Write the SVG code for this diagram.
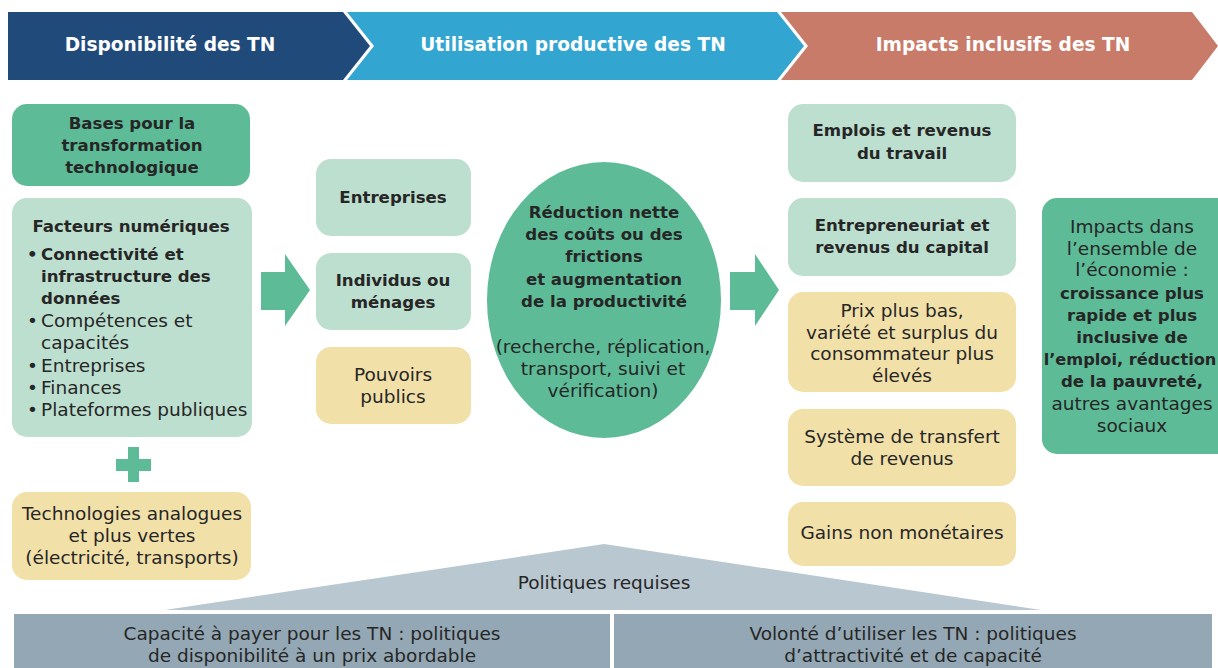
<svg xmlns="http://www.w3.org/2000/svg" width="1218" height="668" viewBox="0 0 1218 668">
  <defs>
    <style>
      text { font-family: "DejaVu Sans", "Liberation Sans", sans-serif; fill: #262626; }
      .t { font-size: 18.5px; text-anchor: middle; }
      .b { font-size: 16.6px; font-weight: bold; text-anchor: middle; }
      .l { font-size: 18.5px; }
      .lb { font-size: 16.6px; font-weight: bold; }
      .hd { font-size: 18.6px; font-weight: bold; fill: #ffffff; text-anchor: middle; }
      .dark { fill: #5dbb97; }
      .light { fill: #bddfcf; }
      .yellow { fill: #f2e0a9; }
      .roof { fill: #b8c7d0; }
      .bar { fill: #93a8b4; }
      .arrow { fill: #5dbb97; }
    </style>
  </defs>

  <!-- Stage banners -->
  <g id="stage-disponibilite">
    <polygon points="8,12 343,12 370,46 343,80 8,80" fill="#1f4a7a"/>
    <text class="hd" x="170" y="51">Disponibilité des TN</text>
  </g>
  <g id="stage-utilisation">
    <polygon points="347,12 777,12 804,46 777,80 347,80 374,46" fill="#33a5d1"/>
    <text class="hd" x="573" y="51">Utilisation productive des TN</text>
  </g>
  <g id="stage-impacts">
    <polygon points="781,12 1192,12 1218,46 1192,80 781,80 808,46" fill="#c87b69"/>
    <text class="hd" x="1003" y="51">Impacts inclusifs des TN</text>
  </g>

  <!-- Left column: foundations -->
  <g id="bases">
    <rect class="dark" x="12" y="104" width="238" height="82" rx="15"/>
    <text class="b" x="132" y="129">Bases pour la</text>
    <text class="b" x="132" y="151">transformation</text>
    <text class="b" x="132" y="173">technologique</text>
  </g>
  <g id="facteurs">
    <rect class="light" x="12" y="198" width="240" height="239" rx="15"/>
    <text class="b" x="131" y="232">Facteurs numériques</text>
    <text class="lb" x="27" y="260">•</text>
    <text class="lb" x="41" y="260">Connectivité et</text>
    <text class="lb" x="41" y="282">infrastructure des</text>
    <text class="lb" x="41" y="304">données</text>
    <text class="l" x="27" y="327">•</text>
    <text class="l" x="41" y="327">Compétences et</text>
    <text class="l" x="41" y="349">capacités</text>
    <text class="l" x="27" y="372">•</text>
    <text class="l" x="41" y="372">Entreprises</text>
    <text class="l" x="27" y="394">•</text>
    <text class="l" x="41" y="394">Finances</text>
    <text class="l" x="27" y="416">•</text>
    <text class="l" x="41" y="416">Plateformes publiques</text>
  </g>
  <g id="plus">
    <rect class="arrow" x="128" y="447" width="11" height="35"/>
    <rect class="arrow" x="116" y="459" width="35" height="12"/>
  </g>
  <g id="technologies">
    <rect class="yellow" x="12" y="492" width="239" height="88" rx="15"/>
    <text class="t" x="132" y="520">Technologies analogues</text>
    <text class="t" x="132" y="542">et plus vertes</text>
    <text class="t" x="132" y="564">(électricité, transports)</text>
  </g>

  <!-- Middle column: users -->
  <g id="entreprises">
    <rect class="light" x="316" y="159" width="155" height="77" rx="15"/>
    <text class="b" x="393" y="203">Entreprises</text>
  </g>
  <g id="individus">
    <rect class="light" x="316" y="253" width="155" height="77" rx="15"/>
    <text class="b" x="393" y="286">Individus ou</text>
    <text class="b" x="393" y="308">ménages</text>
  </g>
  <g id="pouvoirs">
    <rect class="yellow" x="316" y="347" width="155" height="77" rx="15"/>
    <text class="t" x="393" y="381">Pouvoirs</text>
    <text class="t" x="393" y="403">publics</text>
  </g>

  <!-- Central effect -->
  <g id="reduction">
    <ellipse class="dark" cx="604" cy="300" rx="117" ry="138"/>
    <text class="b" x="604" y="218">Réduction nette</text>
    <text class="b" x="604" y="240">des coûts ou des</text>
    <text class="b" x="604" y="262">frictions</text>
    <text class="b" x="604" y="285">et augmentation</text>
    <text class="b" x="604" y="307">de la productivité</text>
    <text class="t" x="603" y="353">(recherche, réplication,</text>
    <text class="t" x="603" y="375">transport, suivi et</text>
    <text class="t" x="603" y="397">vérification)</text>
  </g>

  <!-- Right column: outcomes -->
  <g id="emplois">
    <rect class="light" x="788" y="104" width="228" height="78" rx="15"/>
    <text class="b" x="902" y="136">Emplois et revenus</text>
    <text class="b" x="902" y="159">du travail</text>
  </g>
  <g id="entrepreneuriat">
    <rect class="light" x="788" y="198" width="228" height="78" rx="15"/>
    <text class="b" x="902" y="231">Entrepreneuriat et</text>
    <text class="b" x="902" y="253">revenus du capital</text>
  </g>
  <g id="prix">
    <rect class="yellow" x="788" y="292" width="228" height="100" rx="15"/>
    <text class="t" x="902" y="317">Prix plus bas,</text>
    <text class="t" x="902" y="339">variété et surplus du</text>
    <text class="t" x="902" y="360">consommateur plus</text>
    <text class="t" x="902" y="382">élevés</text>
  </g>
  <g id="transfert">
    <rect class="yellow" x="788" y="409" width="228" height="77" rx="15"/>
    <text class="t" x="902" y="443">Système de transfert</text>
    <text class="t" x="902" y="465">de revenus</text>
  </g>
  <g id="gains">
    <rect class="yellow" x="788" y="502" width="228" height="64" rx="15"/>
    <text class="t" x="902" y="539">Gains non monétaires</text>
  </g>
  <g id="impacts-economie">
    <rect class="dark" x="1042" y="198" width="190" height="256" rx="15"/>
    <text class="t" x="1132" y="233">Impacts dans</text>
    <text class="t" x="1132" y="255">l’ensemble de</text>
    <text class="t" x="1132" y="276">l’économie :</text>
    <text class="b" x="1132" y="299">croissance plus</text>
    <text class="b" x="1132" y="321">rapide et plus</text>
    <text class="b" x="1132" y="343">inclusive de</text>
    <text class="b" x="1130" y="365" style="font-size:16.2px">l’emploi, réduction</text>
    <text class="b" x="1132" y="387">de la pauvreté,</text>
    <text class="t" x="1132" y="410">autres avantages</text>
    <text class="t" x="1132" y="432">sociaux</text>
  </g>

  <!-- Flow arrows -->
  <g id="connectors">
    <polygon class="arrow" points="261,272 285,272 285,254 310,290 285,326 285,310 261,310"/>
    <polygon class="arrow" points="730,272 755,272 755,254 779,290 755,326 755,310 730,310"/>
  </g>

  <!-- Policy foundation -->
  <g id="politiques">
    <polygon class="roof" points="165,610 604,544 1041,610"/>
    <text class="t" x="604" y="589">Politiques requises</text>
  </g>
  <g id="capacite">
    <rect class="bar" x="14" y="614" width="596" height="54"/>
    <text class="t" x="312" y="640">Capacité à payer pour les TN : politiques</text>
    <text class="t" x="312" y="662">de disponibilité à un prix abordable</text>
  </g>
  <g id="volonte">
    <rect class="bar" x="614" y="614" width="598" height="54"/>
    <text class="t" x="913" y="640">Volonté d’utiliser les TN : politiques</text>
    <text class="t" x="913" y="662">d’attractivité et de capacité</text>
  </g>
</svg>
